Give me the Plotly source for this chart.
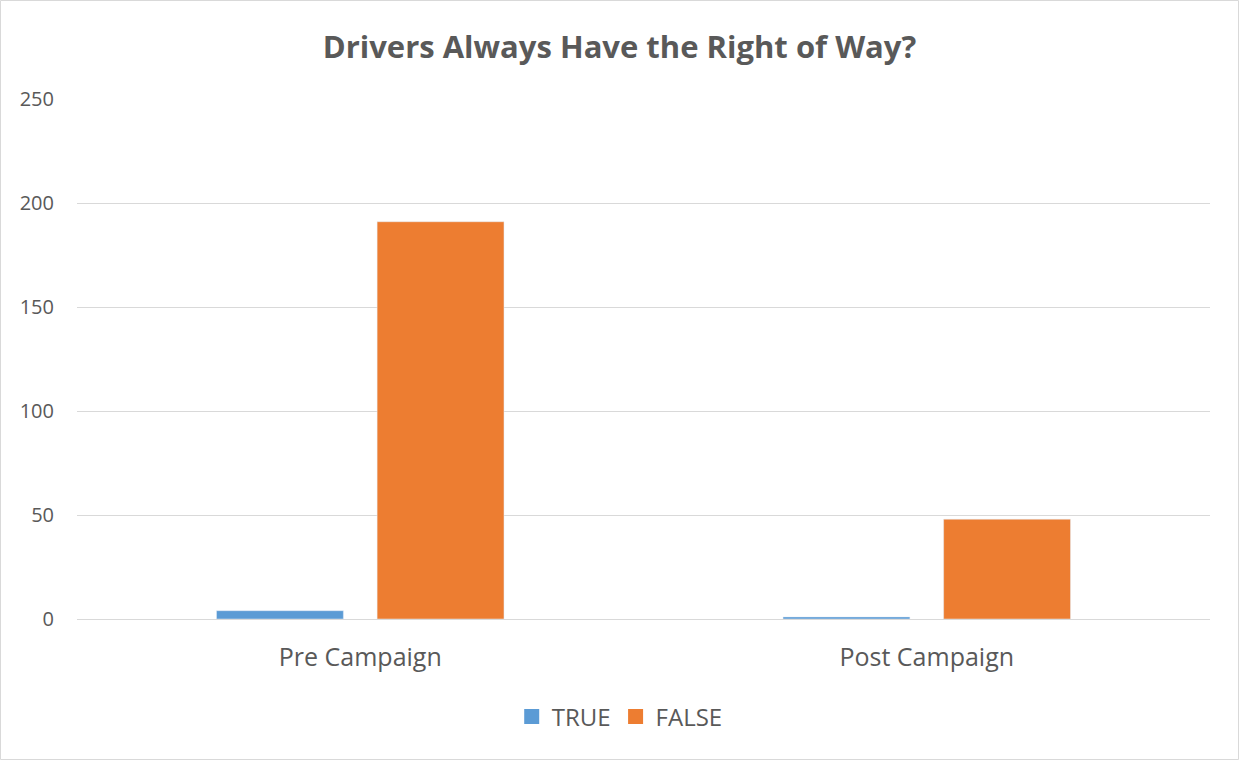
import plotly.graph_objects as go

categories = ["Pre Campaign", "Post Campaign"]
true_vals = [4, 1]
false_vals = [191, 48]
y_ticks = [0, 50, 100, 150, 200, 250]
series_names = ["TRUE", "FALSE"]
colors = ["#5B9BD5", "#ED7D31"]

W, H = 1239, 760
ml, mr, mt, mb = 77, 29, 99, 141
pw, ph = W - ml - mr, H - mt - mb

fig = go.Figure()
for name, vals, col in zip(series_names, [true_vals, false_vals], colors):
    fig.add_trace(go.Bar(name=name, x=categories, y=vals, marker_color=col,
                         showlegend=False))
# legend-only square markers
for name, col in zip(series_names, colors):
    fig.add_trace(go.Scatter(name=name, x=[None], y=[None], mode="markers",
                             marker=dict(symbol="square", size=15, color=col),
                             showlegend=True))

font = "Open Sans, sans-serif"
fig.update_layout(
    width=W, height=H,
    margin=dict(l=ml, r=mr, t=mt, b=mb),
    paper_bgcolor="white", plot_bgcolor="white",
    barmode="group", bargap=0.433, bargroupgap=0.21,
    title=dict(text="<b>Drivers Always Have the Right of Way?</b>", x=0.5, xanchor="center",
               y=1 - 47 / H, yanchor="middle",
               font=dict(family=font, size=31, color="#595959")),
    font=dict(family=font, color="#595959"),
    showlegend=True,
    legend=dict(orientation="h", x=0.479, xanchor="center", y=-(717 - 619) / ph, yanchor="middle",
                font=dict(size=24, color="#595959"), itemwidth=30, traceorder="normal"),
    xaxis=dict(showgrid=False, showline=True, linecolor="#d9d9d9", linewidth=1,
               tickfont=dict(size=25, color="#595959"), ticks="", ticklabelstandoff=16),
    yaxis=dict(range=[0, 250], tickvals=y_ticks, showgrid=True, gridcolor="#d9d9d9",
               gridwidth=1, zeroline=False, showline=False,
               tickfont=dict(size=20, color="#595959"), ticks="", ticklabelstandoff=22),
    shapes=[dict(type="rect", xref="paper", yref="paper",
                 x0=(0.5 - ml) / pw, x1=(W - 0.5 - ml) / pw,
                 y0=-(H - 0.5 - mt - ph) / ph, y1=1 + (mt - 0.5) / ph,
                 line=dict(color="#d9d9d9", width=1), fillcolor="rgba(0,0,0,0)", layer="below")],
)
fig.write_html("out.html", config={"displayModeBar": False},
               post_script="document.body.style.margin='0';document.body.style.overflow='hidden';")
